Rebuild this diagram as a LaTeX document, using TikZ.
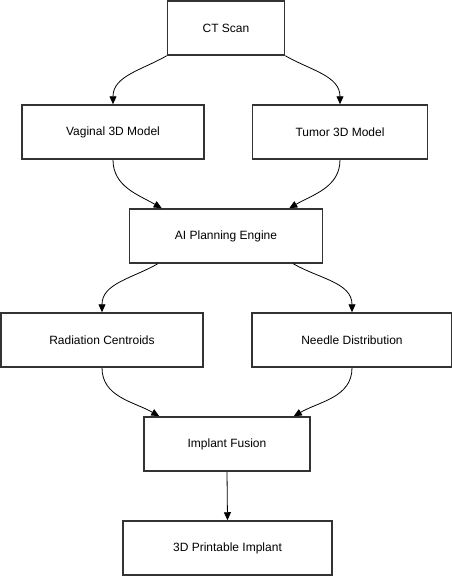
\documentclass[tikz,border=0pt]{standalone}
\usepackage{fontspec}
\setmainfont{Liberation Sans}
\usetikzlibrary{arrows.meta}
\begin{document}
\begin{tikzpicture}[x=1pt,y=-1pt,>={Triangle[length=8pt,width=7pt]},
		box/.style={draw=black!80,line width=1.5pt,fill=white,minimum height=54pt,inner sep=0pt,font=\fontsize{12}{14}\selectfont},
		link/.style={->,line width=0.8pt}]
			\useasboundingbox (0,0) rectangle (452,576);
			\node[box,minimum width=117pt] (ct) at (226,28) {CT Scan};
			\node[box,minimum width=182pt] (vag) at (113,132) {Vaginal 3D Model};
			\node[box,minimum width=175pt] (tum) at (340,132) {Tumor 3D Model};
			\node[box,minimum width=193pt] (ai) at (226,236) {AI Planning Engine};
			\node[box,minimum width=202pt] (rad) at (102,340) {Radiation Centroids};
			\node[box,minimum width=200pt] (nee) at (352,340) {Needle Distribution};
			\node[box,minimum width=166pt] (fus) at (227,444) {Implant Fusion};
			\node[box,minimum width=209pt] (prt) at (227.5,548) {3D Printable Implant};
			\draw[link](ct.south west) to[out=-150,in=90] (vag.north);
			\draw[link](ct.south east) to[out=-30,in=90] (tum.north);
			\draw[link](vag.south) to[out=-90,in=150] ([xshift=33pt]ai.north west);
			\draw[link](tum.south) to[out=-90,in=30] ([xshift=-34pt]ai.north east);
			\draw[link]([xshift=29pt]ai.south west) to[out=-150,in=90] (rad.north);
			\draw[link]([xshift=-30pt]ai.south east) to[out=-30,in=90] (nee.north);
			\draw[link](rad.south) to[out=-90,in=150] ([xshift=16pt]fus.north west);
			\draw[link](nee.south) to[out=-90,in=30] ([xshift=-17pt]fus.north east);
			\draw[link](fus.south) -- (prt.north);
		\end{tikzpicture}
\end{document}
